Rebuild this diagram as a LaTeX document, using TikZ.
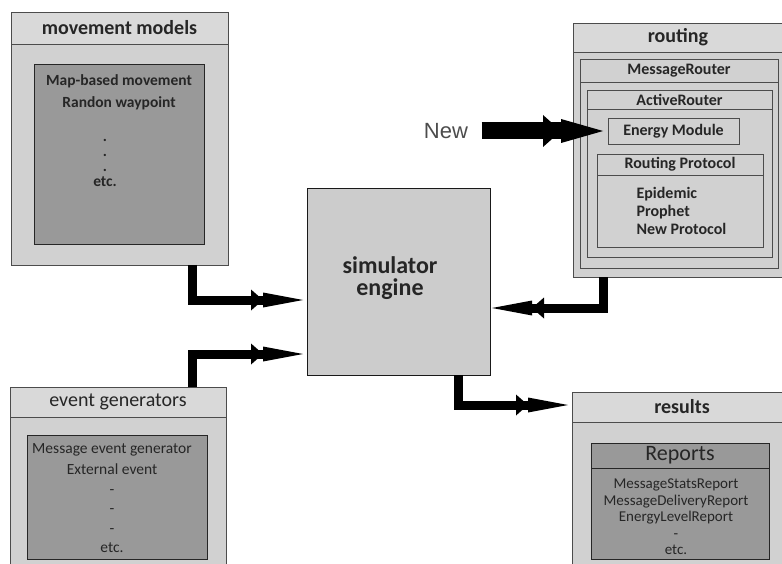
\documentclass[tikz,border=0pt]{standalone}
\usepackage{fontspec}
\setmainfont{Carlito}
\newfontfamily\arialfont{Liberation Sans}
\usetikzlibrary{arrows.meta}

\tikzset{
    box/.style={draw=black!70, fill=black!18, line width=0.8pt, anchor=north west, inner sep=0pt, outer sep=0pt},
    darkbox/.style={box, draw=black!85, fill=black!40},
    headbox/.style={box, fill=black!15, text=black!85, font=\bfseries\fontsize{20}{22}\selectfont},
    subhead/.style={box, text=black!85, font=\bfseries\fontsize{16}{18}\selectfont},
    itemlist/.style={text=black!85, align=center, font=\bfseries\fontsize{15.5}{22}\selectfont},
    flow/.style={line width=9pt, -{Triangle[length=12pt,width=21pt,line width=0pt,sep=0pt]Triangle[length=40pt,width=15pt,line width=0pt]}},
    bigflow/.style={line width=17pt, -{Triangle[length=18pt,width=32pt,line width=0pt,sep=0pt]Triangle[length=42pt,width=24pt,line width=0pt]}},
}

\begin{document}
\begin{tikzpicture}[x=1pt, y=-1pt]
    \useasboundingbox (0,0) rectangle (782,564);
    \clip (0,0) rectangle (782,564);

    \node[box, minimum width=217pt, minimum height=253pt](mm)        at (11,12) {};
    \node[headbox, minimum width=217pt, minimum height=32pt](mm-head) at (11,12) {movement models};
    \node[darkbox, minimum width=170pt, minimum height=180pt](mm-in)  at (34,64) {};
    \node[itemlist](mm-list)  at (119,92) {Map-based movement\\Randon waypoint};
    \node[itemlist, font=\bfseries\fontsize{15.5}{15}\selectfont](mm-etc) at (105,163) {.\\.\\.\\etc.};

    \node[box, minimum width=216pt, minimum height=200pt](eg)        at (10,387) {};
    \node[headbox, font=\fontsize{20}{22}\selectfont, minimum width=216pt, minimum height=30pt](eg-head) at (10,387) {event generators};
    \node[darkbox, minimum width=180pt, minimum height=124pt](eg-in) at (27,435) {};
    \node[itemlist, font=\fontsize{15.5}{19.5}\selectfont](eg-list) at (112,498)
        {Message event generator\\[2pt]External event\\-\\-\\-\\etc.};

    \node[box, fill=black!20, draw=black!90, minimum width=183pt, minimum height=187pt](engine) at (307,188) {};
    \node[itemlist, font=\bfseries\fontsize{24}{22}\selectfont](engine-label) at (390,278) {simulator\\engine};

    \node[box, minimum width=210pt, minimum height=254pt](rt)         at (573,23) {};
    \node[headbox, minimum width=210pt, minimum height=29pt](rt-head) at (573,23) {routing};
    \node[box, minimum width=198pt, minimum height=209pt](msg)        at (580,59) {};
    \node[subhead, minimum width=198pt, minimum height=23pt](msg-head) at (580,59) {MessageRouter};
    \node[box, minimum width=185pt, minimum height=167pt](act)        at (587,90) {};
    \node[subhead, minimum width=185pt, minimum height=19pt](act-head) at (587,90) {ActiveRouter};
    \node[subhead, minimum width=131pt, minimum height=26pt](energy)  at (608,118) {Energy Module};
    \node[box, minimum width=166pt, minimum height=93pt](proto)       at (597,154) {};
    \node[subhead, minimum width=166pt, minimum height=21pt](proto-head) at (597,154) {Routing Protocol};
    \node[itemlist, anchor=west, align=left, font=\bfseries\fontsize{16}{18}\selectfont](proto-list) at (633,211)
        {Epidemic\\Prophet\\New Protocol};

    \node[box, minimum width=220pt, minimum height=190pt](res)        at (572,392) {};
    \node[headbox, minimum width=220pt, minimum height=30pt](res-head) at (572,392) {results};
    \node[darkbox, minimum width=178pt, minimum height=116pt](rep)    at (591,443) {};
    \node[darkbox, text=black!85, font=\fontsize{22}{24}\selectfont, minimum width=178pt, minimum height=25pt](rep-head) at (591,443) {Reports};
    \node[itemlist, font=\fontsize{15}{16.5}\selectfont](rep-list) at (676,517)
        {MessageStatsReport\\MessageDeliveryReport\\EnergyLevelReport\\-\\etc.};

    \node[text=black!70, font=\arialfont\fontsize{22}{24}\selectfont](new) at (446,131) {New};

    \draw[flow] ([xshift=-36pt]mm.south east) |- ([xshift=-4pt, yshift=-18.5pt]engine.west);
    \draw[flow] ([xshift=-34pt]eg.north east) |- ([xshift=-4pt, yshift=-72.5pt]engine.west);
    \draw[flow] ([xshift=30pt]rt.south west) |- ([xshift=2pt, yshift=-26.5pt]engine.east);
    \draw[flow] ([xshift=-32pt]engine.south east) |- ([xshift=-4pt, yshift=-13pt]res.north west);
    \draw[bigflow] ([xshift=10pt]new.east) -- ([xshift=-5pt]energy.west);
\end{tikzpicture}
\end{document}
